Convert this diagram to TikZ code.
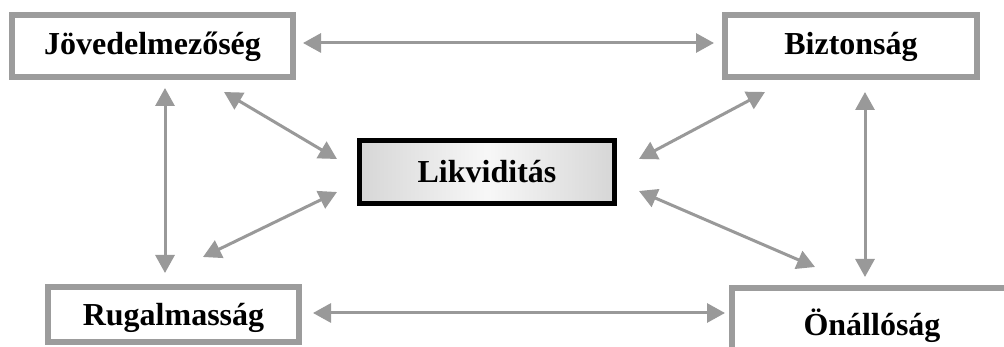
\documentclass[tikz,border=0pt]{standalone}
\usepackage{fontspec}
\setmainfont{Liberation Serif}
\usetikzlibrary{arrows.meta}
\definecolor{boxgray}{HTML}{9C9C9C}
\definecolor{arrgray}{HTML}{999999}
\tikzset{
  lbl/.style={font=\fontsize{32}{38}\selectfont\bfseries, inner sep=2pt, text height=23pt, text depth=5pt, align=center},
  gbox/.style={lbl, draw=boxgray, line width=6pt, fill=white},
  lbox/.style={lbl, draw=black, line width=5pt, left color=black!16, right color=black!16, middle color=black!3},
  link/.style={draw=arrgray, line width=3pt, {Triangle[length=18pt,width=19pt]}-{Triangle[length=18pt,width=19pt]}}
}
\begin{document}
\begin{tikzpicture}[x=1pt,y=-1pt]
\useasboundingbox (0,0) rectangle (1004,347);
\clip (0,0) rectangle (1004,347);
\fill[white] (0,0) rectangle (1004,347);

\node[gbox, minimum width=281pt, minimum height=62pt] (jov) at (152.5,46) {Jövedelmezőség};
\node[gbox, minimum width=252pt, minimum height=62pt] (biz) at (851,46) {Biztonság};
\node[lbox, minimum width=255pt, minimum height=63pt, text height=27pt] (lik) at (487,172) {Likviditás};
\node[gbox, minimum width=251pt, minimum height=55pt, text height=27pt] (rug) at (173.5,314.5) {Rugalmasság};
\node[gbox, minimum width=280pt, minimum height=78pt] (onal) at (872,327) {Önállóság};

\coordinate (jovE) at (303,43);
\coordinate (bizW) at (714,43);
\coordinate (rugE) at (313,313);
\coordinate (onalW) at (725,313);
\coordinate (jovS) at (165,88);
\coordinate (rugN) at (165,273);
\coordinate (bizS) at (865,92);
\coordinate (onalN) at (865,277);
\coordinate (jovSE) at (224,92);
\coordinate (likNW) at (337,159);
\coordinate (rugNE) at (203,257);
\coordinate (likSW) at (337,192);
\coordinate (bizSW) at (765,92);
\coordinate (likNE) at (639,159);
\coordinate (likSE) at (639,191);
\coordinate (onalNW) at (815,267);

\draw[link] (jovE) -- (bizW);
\draw[link] (rugE) -- (onalW);
\draw[link] (jovS) -- (rugN);
\draw[link] (bizS) -- (onalN);
\draw[link] (jovSE) -- (likNW);
\draw[link] (rugNE) -- (likSW);
\draw[link] (bizSW) -- (likNE);
\draw[link] (likSE) -- (onalNW);
\end{tikzpicture}
\end{document}
